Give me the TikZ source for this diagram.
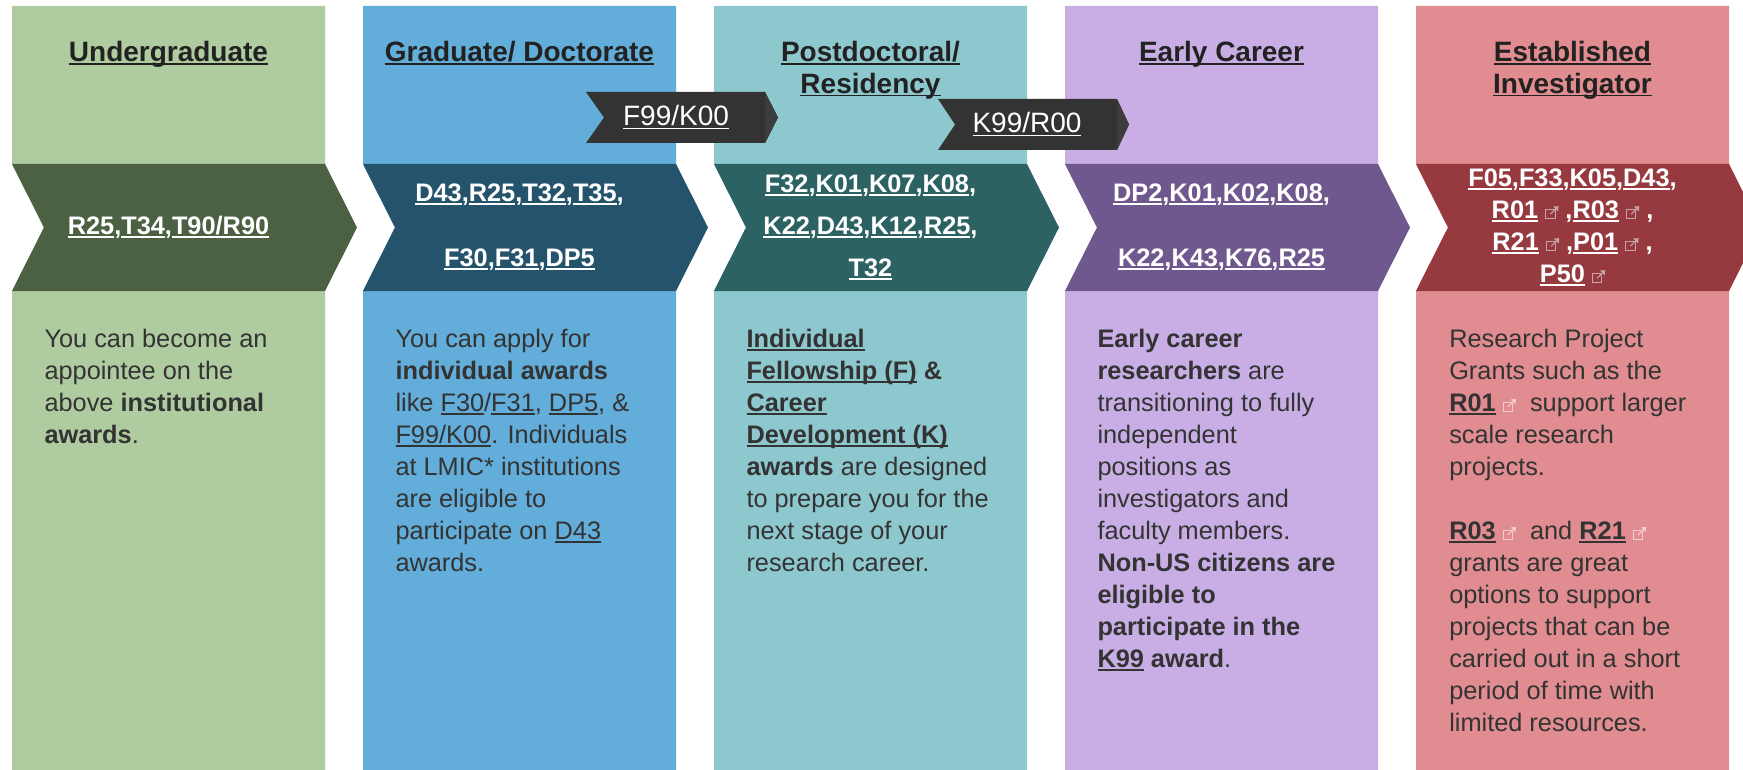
\documentclass[tikz,border=0pt]{standalone}
\usepackage{fontspec}
\setmainfont{Liberation Sans}

\definecolor{ugLight}{HTML}{AFCBA0}
\definecolor{ugDark}{HTML}{4B6141}
\definecolor{gdLight}{HTML}{62ADDA}
\definecolor{gdDark}{HTML}{25536C}
\definecolor{pdLight}{HTML}{8EC8CF}
\definecolor{pdDark}{HTML}{2C6262}
\definecolor{ecLight}{HTML}{C8AEE5}
\definecolor{ecDark}{HTML}{6F588D}
\definecolor{eiLight}{HTML}{E08C90}
\definecolor{eiDark}{HTML}{973A40}
\definecolor{tagDark}{HTML}{333333}
\definecolor{tagTip}{HTML}{3C3C3C}
\definecolor{titleGray}{HTML}{222222}
\definecolor{bodyGray}{HTML}{333333}
\definecolor{iconBand}{HTML}{C9A3A6}
\definecolor{iconBody}{HTML}{F4CDD0}

% underline that runs through descenders, like a web link
\newcommand{\lnk}[1]{\setbox0=\hbox{#1}\rlap{\rule[-0.12em]{\wd0}{0.065em}}\box0\relax}
% small external-link mark
\newcommand{\extic}[1]{\tikz[baseline=0pt,reset cm,x=1pt,y=1pt]{\draw[#1,line width=0.8pt] (0,0) rectangle (7,7); \draw[#1,line width=0.8pt] (3.5,3.5) -- (8,8); \fill[#1] (9.5,9.5) -- (5.5,9.2) -- (9.2,5.5) -- cycle;}}

\tikzset{every picture/.style={line width=0.75pt}}
\tikzset{
  stagetitle/.style={text=titleGray, font=\fontsize{21}{23.5}\selectfont\bfseries, align=center, inner sep=0pt, anchor=north},
  bandtext/.style={text=white, font=\fontsize{19}{#1}\selectfont\bfseries, align=center, inner sep=0pt},
  bodytext/.style={text=bodyGray, font=\fontsize{19}{24}\selectfont, align=left, inner sep=0pt, anchor=north west},
  tagtext/.style={text=white, font=\fontsize{21}{24}\selectfont, inner sep=0pt}
}

\begin{document}
\begin{tikzpicture}[x=0.75pt,y=0.75pt,yscale=-1,xscale=1]
	\useasboundingbox (0,0) rectangle (1743,770);
	\clip (0,0) rectangle (1743,770);
	\fill [white] (0,0) rectangle (1743,770);
	%Shape: Column Undergraduate
	\draw [fill=ugLight, draw=none] (12,6) -- (325,6) -- (325,770) -- (12,770) -- (12,291) -- (44,227.5) -- (12,164) -- cycle ;
	\draw [fill=ugDark, draw=none] (12,164) -- (325,164) -- (357,227.5) -- (325,291) -- (12,291) -- (44,227.5) -- cycle ;
	%Shape: Column Graduate
	\draw [fill=gdLight, draw=none] (363,6) -- (676,6) -- (676,770) -- (363,770) -- (363,291) -- (395,227.5) -- (363,164) -- cycle ;
	\draw [fill=gdDark, draw=none] (363,164) -- (676,164) -- (708,227.5) -- (676,291) -- (363,291) -- (395,227.5) -- cycle ;
	%Shape: Column Postdoctoral
	\draw [fill=pdLight, draw=none] (714,6) -- (1027,6) -- (1027,770) -- (714,770) -- (714,291) -- (746,227.5) -- (714,164) -- cycle ;
	\draw [fill=pdDark, draw=none] (714,164) -- (1027,164) -- (1059,227.5) -- (1027,291) -- (714,291) -- (746,227.5) -- cycle ;
	%Shape: Column Early Career
	\draw [fill=ecLight, draw=none] (1065,6) -- (1378,6) -- (1378,770) -- (1065,770) -- (1065,291) -- (1097,227.5) -- (1065,164) -- cycle ;
	\draw [fill=ecDark, draw=none] (1065,164) -- (1378,164) -- (1410,227.5) -- (1378,291) -- (1065,291) -- (1097,227.5) -- cycle ;
	%Shape: Column Established
	\draw [fill=eiLight, draw=none] (1416,6) -- (1729,6) -- (1729,770) -- (1416,770) -- (1416,291) -- (1448,227.5) -- (1416,164) -- cycle ;
	\draw [fill=eiDark, draw=none] (1416,164) -- (1729,164) -- (1761,227.5) -- (1729,291) -- (1416,291) -- (1448,227.5) -- cycle ;
	%Shape: Tag F99/K00
	\draw [fill=tagDark, draw=none] (586,92) -- (765,92) -- (778,117.5) -- (765,143) -- (586,143) -- (604,117.5) -- cycle ;
	\draw [fill=tagTip, draw=none] (765,92) -- (778,117.5) -- (765,143) -- cycle ;
	%Shape: Tag K99/R00
	\draw [fill=tagDark, draw=none] (938,99) -- (1117,99) -- (1129,124.5) -- (1117,150) -- (938,150) -- (955,124.5) -- cycle ;
	\draw [fill=tagTip, draw=none] (1117,99) -- (1129,124.5) -- (1117,150) -- cycle ;
	% Text Node
	\draw (676,117.5) node (fkTag) [tagtext] {\lnk{F99/K00}};
	% Text Node
	\draw (1027,124.5) node (krTag) [tagtext] {\lnk{K99/R00}};
	% Text Node
	\draw (168.5,41) node (ugTitle) [stagetitle] {\lnk{Undergraduate}};
	% Text Node
	\draw (519.5,41) node (gdTitle) [stagetitle] {\lnk{Graduate/ Doctorate}};
	% Text Node
	\draw (870.5,41) node (pdTitle) [stagetitle] {\lnk{Postdoctoral/}\\\lnk{Residency}};
	% Text Node
	\draw (1221.5,41) node (ecTitle) [stagetitle] {\lnk{Early Career}};
	% Text Node
	\draw (1572.5,41) node (eiTitle) [stagetitle] {\lnk{Established}\\\lnk{Investigator}};
	% Text Node
	\draw (168.5,227.5) node (ugBand) [bandtext=24] {\lnk{R25},\lnk{T34},\lnk{T90/R90}};
	% Text Node
	\draw (519.5,227.5) node (gdBand) [bandtext=48.75] {\lnk{D43},\lnk{R25},\lnk{T32},\lnk{T35},\\\lnk{F30},\lnk{F31},\lnk{DP5}};
	% Text Node
	\draw (870.5,227.5) node (pdBand) [bandtext=31.5] {\lnk{F32},\lnk{K01},\lnk{K07},\lnk{K08},\\\lnk{K22},\lnk{D43},\lnk{K12},\lnk{R25},\\\lnk{T32}};
	% Text Node
	\draw (1221.5,227.5) node (ecBand) [bandtext=48.75] {\lnk{DP2},\lnk{K01},\lnk{K02},\lnk{K08},\\\lnk{K22},\lnk{K43},\lnk{K76},\lnk{R25}};
	% Text Node
	\draw (1572.5,227.5) node (eiBand) [bandtext=24] {\lnk{F05},\lnk{F33},\lnk{K05},\lnk{D43},\\\lnk{R01} \extic{iconBand} ,\lnk{R03} \extic{iconBand} ,\\\lnk{R21} \extic{iconBand} ,\lnk{P01} \extic{iconBand} ,\\\lnk{P50} \extic{iconBand}};
	% Text Node
	\draw (44,329) node (ugBody) [bodytext] {You can become an\\appointee on the\\above \textbf{institutional}\\\textbf{awards}.};
	% Text Node
	\draw (395,329) node (gdBody) [bodytext] {You can apply for\\\textbf{individual awards}\\like \lnk{F30}/\lnk{F31}, \lnk{DP5}, \&\\\lnk{F99/K00}. Individuals\\at LMIC* institutions\\are eligible to\\participate on \lnk{D43}\\awards.};
	% Text Node
	\draw (746,329) node (pdBody) [bodytext] {\textbf{\lnk{Individual}}\\\textbf{\lnk{Fellowship (F)} \&}\\\textbf{\lnk{Career}}\\\textbf{\lnk{Development (K)}}\\\textbf{awards} are designed\\to prepare you for the\\next stage of your\\research career.};
	% Text Node
	\draw (1097,329) node (ecBody) [bodytext] {\textbf{Early career}\\\textbf{researchers} are\\transitioning to fully\\independent\\positions as\\investigators and\\faculty members.\\\textbf{Non-US citizens are}\\\textbf{eligible to}\\\textbf{participate in the}\\\textbf{\lnk{K99} award}.};
	% Text Node
	\draw (1449,329) node (eiBody) [bodytext] {Research Project\\Grants such as the\\\textbf{\lnk{R01}} \extic{iconBody}\ \ support larger\\scale research\\projects.\\[24pt]\textbf{\lnk{R03}} \extic{iconBody}\ \ and \textbf{\lnk{R21}} \extic{iconBody}\\grants are great\\options to support\\projects that can be\\carried out in a short\\period of time with\\limited resources.};
\end{tikzpicture}
\end{document}
